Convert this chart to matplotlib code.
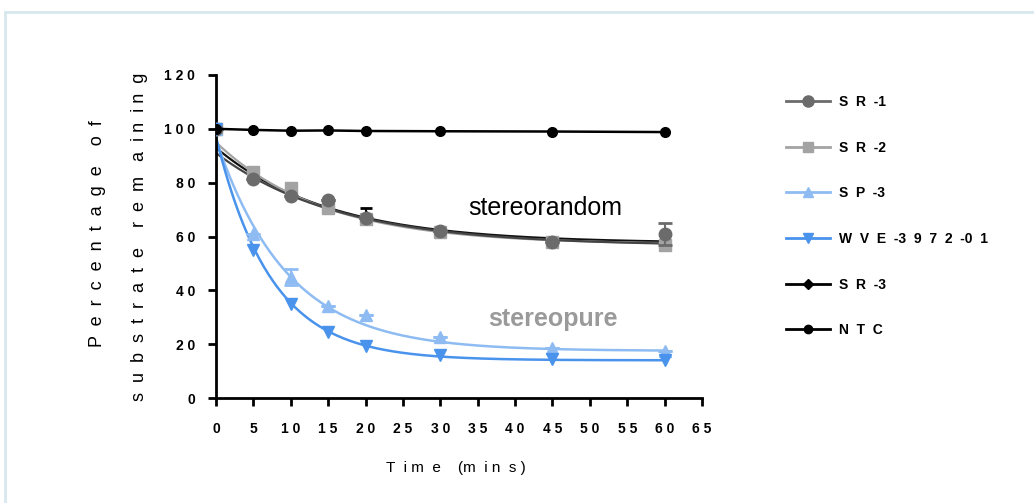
import matplotlib.pyplot as plt
import numpy as np
from matplotlib.lines import Line2D
from matplotlib.patches import Rectangle

plt.rcParams["font.family"] = ["Liberation Sans", "DejaVu Sans"]

# time points (mins)
times = [0, 5, 10, 15, 20, 30, 45, 60]

# measured percentage of substrate remaining
sr1 = [100, 81.5, 75, 73.5, 67, 62, 58, 61]
sr2 = [100, 84, 78, 70.5, 66.5, 61.5, 58, 57]
sp3 = [100, 61, 45, 34, 31, 22.5, 18.5, 17.5]
wve = [100, 55, 35, 24.5, 19.5, 16, 14.5, 14]
sr3 = [100, 84, 76, 72, 68, 62, 58, 58]
ntc = [100, 99.6, 99.3, 99.4, 99.2, 99.1, 99.0, 98.8]

# error bars (sd)
sr1_err = [0, 0, 0, 0, 0, 0, 0, 4]
sp3_err = [0, 0, 3, 0, 0, 0, 0, 0]
sr3_err = [0, 2, 1.5, 0, 2.5, 0, 0, 0]

# one-phase decay fits: (y0, plateau, k)
fit_sr1 = (91, 56.5, 0.061)
fit_sr2 = (95, 57, 0.07)
fit_sr3 = (93, 57.5, 0.066)
fit_sp3 = (96, 17.5, 0.105)
fit_wve = (97, 14, 0.136)

labels = ["S  R  -1", "S  R  -2", "S  P  -3", "W  V  E  -3  9  7  2  -0  1", "S  R  -3", "N  T  C"]
colors = ["#6b6b6b", "#a3a3a3", "#8ebcf2", "#4a93ec", "#000000", "#000000"]
markers = ["o", "s", "^", "v", "D", "o"]
msizes = [9, 8, 8, 8, 4, 7]
legend_msizes = [8, 7, 7, 7, 5, 6]

xticks = list(range(0, 70, 5))
yticks = list(range(0, 140, 20))


def spaced(n):
    return " ".join(str(n))


def decay(params, t):
    y0, plateau, k = params
    return plateau + (y0 - plateau) * np.exp(-k * t)


fig = plt.figure(figsize=(10.34, 5.03), dpi=100)
fig.patches.append(Rectangle((5 / 1034, -0.1), 1.2, 1.1 - 12 / 503,
                             transform=fig.transFigure, fill=False,
                             edgecolor="#d6e8ec", linewidth=2))
ax = fig.add_axes([216 / 1034, 105 / 503, 486 / 1034, 323 / 503])

tt = np.linspace(0, 60, 300)
ax.plot(tt, decay(fit_sr3, tt), color="#111111", lw=1.6, zorder=2)
ax.plot(tt, decay(fit_sr2, tt), color=colors[1], lw=1.6, zorder=2)
ax.plot(tt, decay(fit_sr1, tt), color="#444444", lw=1.6, zorder=2)
ax.plot(tt, decay(fit_sp3, tt), color=colors[2], lw=1.8, zorder=2)
ax.plot(tt, decay(fit_wve, tt), color=colors[3], lw=1.8, zorder=2)

ax.errorbar(times, sr3, yerr=[np.zeros(8), sr3_err], fmt="D", ms=msizes[4],
            color="black", capsize=4, elinewidth=1.5, capthick=2, zorder=3)
ax.errorbar(times, sr2, fmt="s", ms=msizes[1], color=colors[1], zorder=4)
ax.errorbar(times, sr1, yerr=sr1_err, fmt="o", ms=msizes[0], color=colors[0],
            capsize=5, elinewidth=1.5, capthick=2, zorder=5)
ax.errorbar(times, sp3, yerr=sp3_err, fmt="^", ms=msizes[2], color=colors[2],
            capsize=5, elinewidth=1.5, capthick=2, zorder=4)
ax.errorbar(times, wve, fmt="v", ms=msizes[3], color=colors[3], zorder=5)
ax.plot(times, ntc, marker="o", ms=msizes[5], color="black", lw=1.8, zorder=6)

ax.text(44, 70.5, "stereorandom", fontsize=18, color="black", ha="center", va="center")
ax.text(45, 29.5, "stereopure", fontsize=18, color="#9a9a9a", fontweight="bold",
        ha="center", va="center")

ax.set_xlim(0, 65)
ax.set_ylim(0, 120)
ax.set_xticks(xticks)
ax.set_xticklabels([spaced(v) for v in xticks], fontsize=10, fontweight="bold")
ax.set_yticks(yticks)
ax.set_yticklabels([spaced(v) for v in yticks], fontsize=10, fontweight="bold")
ax.tick_params(direction="out", length=6, width=2)
ax.tick_params(axis="x", pad=11)
ax.tick_params(axis="y", pad=9)
for side in ["top", "right"]:
    ax.spines[side].set_visible(False)
for side in ["left", "bottom"]:
    ax.spines[side].set_linewidth(2)
ax.margins(0)

fig.text(97 / 1034, 1 - 234 / 503, "P  e  r  c  e  n  t  a  g  e    o  f", rotation=90,
         fontsize=13, ha="center", va="center")
fig.text(140 / 1034, 1 - 237 / 503,
         "s  u  b  s  t  r  a  t  e    r  e  m   a  i n  i n  g", rotation=90,
         fontsize=13, ha="center", va="center")
fig.text(456 / 1034, 1 - 468 / 503, "T  i m  e    (m  i n  s )", fontsize=11,
         ha="center", va="center")

handles = [Line2D([], [], color=c, marker=m, ms=s, lw=2) for c, m, s in
           zip(colors, markers, legend_msizes)]
fig.legend(handles, labels, loc="upper left", bbox_to_anchor=(779 / 1034, 1 - 88 / 503),
           frameon=False, prop={"weight": "bold", "size": 10},
           handlelength=3.2, handletextpad=0.6, labelspacing=2.28, borderpad=0)

fig.savefig("out.png", dpi=100)
